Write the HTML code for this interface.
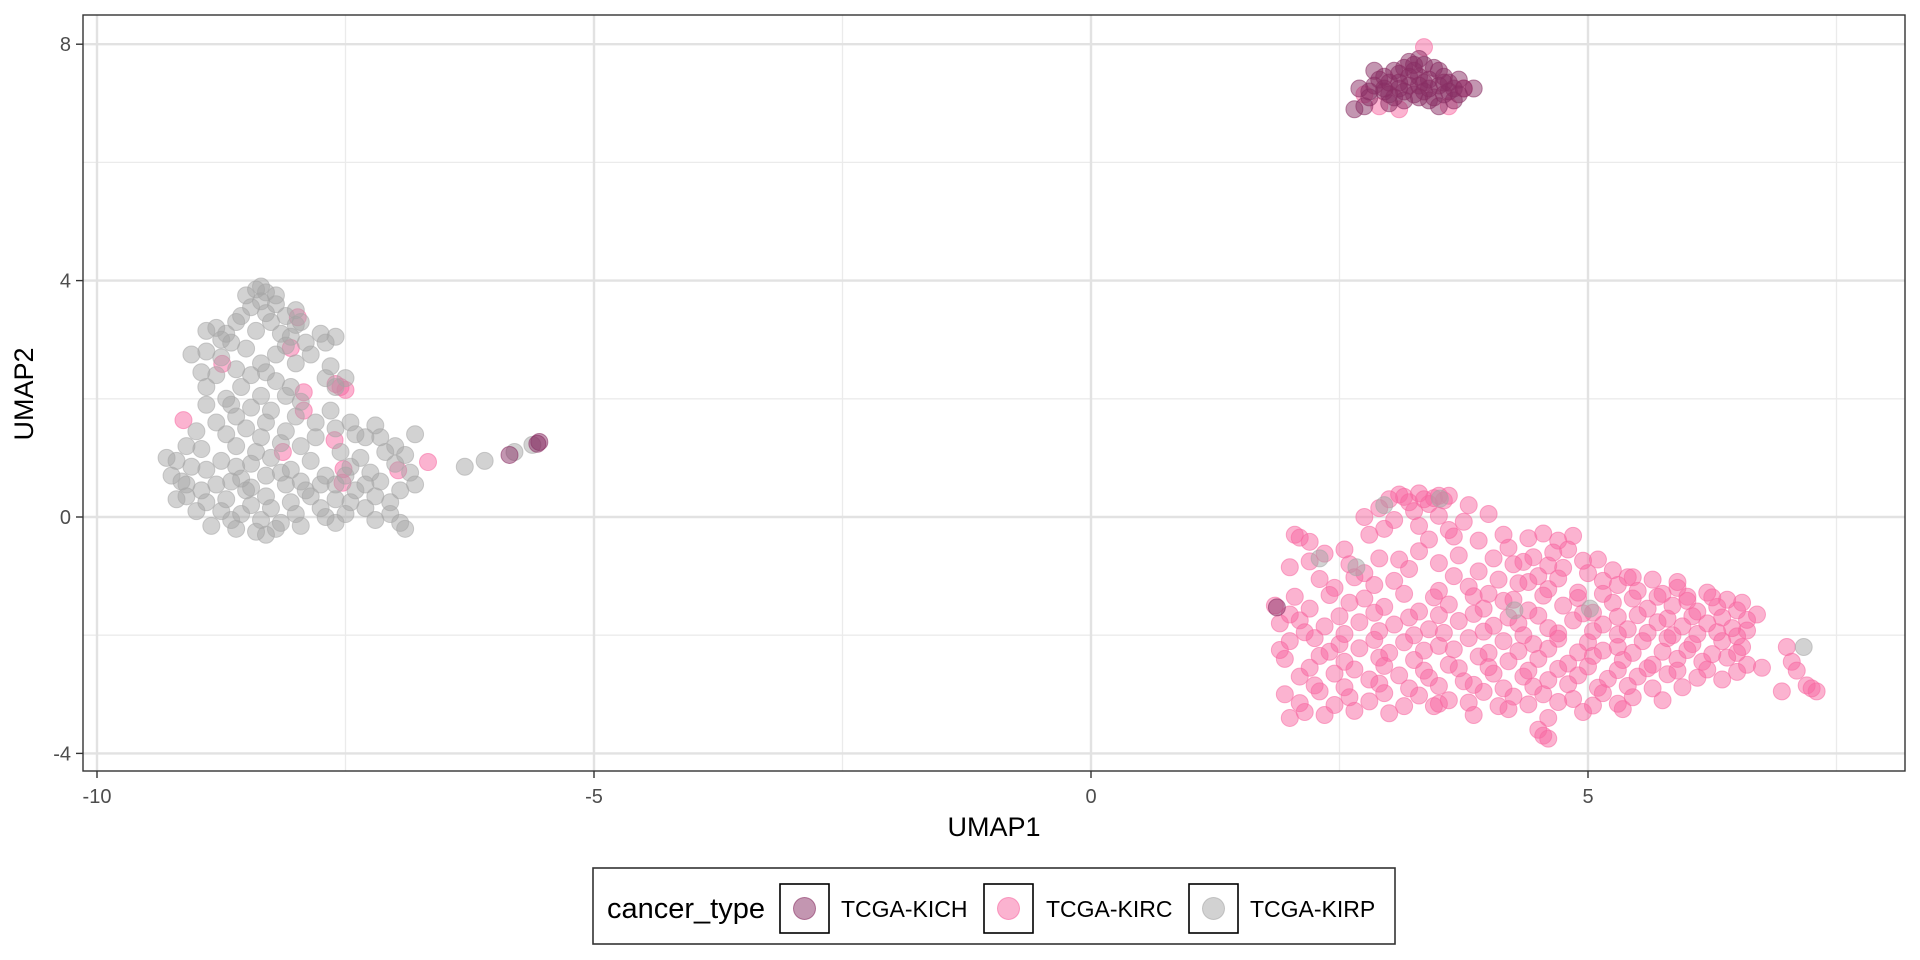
<!DOCTYPE html>
<html><head><meta charset="utf-8"><style>
html,body{margin:0;padding:0;background:#fff;}
svg{display:block;font-family:"Liberation Sans",Arial,sans-serif;}
</style></head><body>
<svg id="chart" width="1920" height="960" viewBox="0 0 1920 960">
<g id="grid"></g>
<g id="pts"></g>
<rect x="83" y="15" width="1822" height="756" fill="none" stroke="#333" stroke-width="1.4"/>
<g id="axes"></g>
<text x="994" y="836" font-size="27" text-anchor="middle" fill="#000">UMAP1</text>
<text transform="translate(33,394) rotate(-90)" font-size="27" text-anchor="middle" fill="#000">UMAP2</text>
<g>
<rect x="593" y="868" width="802" height="76" fill="#fff" stroke="#333" stroke-width="1.6"/>
<text x="607" y="918" font-size="29" fill="#000">cancer_type</text>
<g>
<rect x="780" y="884" width="49" height="49" fill="#fff" stroke="#000" stroke-width="1.6"/>
<circle cx="804.5" cy="908.5" r="11" fill="#882e63" fill-opacity="0.5" stroke="#882e63" stroke-opacity="0.6"/>
<text x="841" y="917" font-size="23">TCGA-KICH</text></g>
<g>
<rect x="984" y="884" width="49" height="49" fill="#fff" stroke="#000" stroke-width="1.6"/>
<circle cx="1008.5" cy="908.5" r="11" fill="#f768a1" fill-opacity="0.5" stroke="#f768a1" stroke-opacity="0.6"/>
<text x="1046" y="917" font-size="23">TCGA-KIRC</text></g>
<g>
<rect x="1189" y="884" width="49" height="49" fill="#fff" stroke="#000" stroke-width="1.6"/>
<circle cx="1213.5" cy="908.5" r="11" fill="#a6a6a6" fill-opacity="0.5" stroke="#a6a6a6" stroke-opacity="0.6"/>
<text x="1250" y="917" font-size="23">TCGA-KIRP</text></g>
</g>
</svg>
<script>
const xTicks = [-10, -5, 0, 5];
const yTicks = [-4, 0, 4, 8];
const xMinor = [-7.5, -2.5, 2.5, 7.5];
const yMinor = [-2, 2, 6];
const kirpX = [-8.35,-8.4,-8.3,-8.5,-8.2,-8.45,-8.1,-8.6,-8.25,-8.0,-8.8,-8.9,-8.4,-8.15,-7.75,-7.6,-8.65,-8.9,-9.05,-8.5,-8.1,-7.7,-7.85,-8.35,-8.0,-8.6,-8.8,-8.9,-8.55,-8.2,-7.7,-7.5,-8.1,-8.7,-8.9,-8.45,-8.25,-8.0,-7.65,-7.8,-8.6,-8.8,-9.0,-8.7,-8.5,-8.3,-8.1,-7.6,-7.4,-7.3,-7.15,-6.8,-9.3,-9.2,-9.25,-9.1,-8.9,-8.75,-8.6,-8.95,-9.1,-8.4,-8.25,-8.3,-8.05,-7.85,-7.7,-7.45,-7.25,-7.0,-6.9,-7.1,-6.8,-6.95,-7.2,-7.4,-7.6,-7.9,-8.05,-8.3,-8.5,-8.7,-8.9,-9.1,-9.0,-8.75,-8.55,-8.35,-8.2,-8.3,-8.15,-8.0,-7.75,-7.5,-7.3,-7.05,-6.95,-7.2,-8.85,-8.6,-9.15,-8.45,-8.15,-7.95,-7.55,-7.35,-7.6,-7.3,-8.55,-8.8,-8.1,-7.85,-6.3,-6.1,-5.8,-5.62,-8.3,-8.0,-7.95,-7.6,2.67,2.95,3.51,4.26,5.02,7.17,2.3,
-8.75,-8.2,-8.45,-8.05,-8.35,-7.95,-8.6,-8.35,-7.8,-7.45,-7.2,-7.0,-9.05,-8.65,-8.45,-8.15,-7.95,-7.75,-7.5,-7.15,-6.85,-7.05,-7.45,-7.7,-7.95,-8.45,-8.95,-9.2,-8.65,-8.25,-8.4,-6.9,-7.6,-8.2,-8.35,-8.55,-8.7,-7.9,-8.05,-7.65,-8.75,-8.95,-8.3,-8.65];
const kirpY = [3.9,3.85,3.8,3.75,3.6,3.55,3.4,3.3,3.3,3.25,3.2,3.15,3.15,3.1,3.1,3.05,2.95,2.8,2.75,2.85,2.9,2.95,2.75,2.6,2.6,2.5,2.4,2.2,2.2,2.3,2.35,2.35,2.05,2.0,1.9,1.85,1.8,1.7,1.8,1.6,1.7,1.6,1.45,1.4,1.5,1.6,1.45,1.5,1.4,1.35,1.35,1.4,1.0,0.95,0.7,0.55,0.8,0.95,0.85,1.15,1.2,1.1,1.0,0.7,0.8,0.95,0.7,0.85,0.75,0.9,1.05,1.1,0.55,0.45,0.35,0.45,0.3,0.45,0.25,0.35,0.45,0.3,0.25,0.35,0.1,0.1,0.05,-0.05,-0.2,-0.3,-0.1,0.05,0.15,0.05,0.15,0.25,-0.1,-0.05,-0.15,-0.2,0.6,0.9,1.25,1.2,1.1,1.0,0.55,0.55,0.65,0.55,0.55,0.35,0.85,0.95,1.1,1.22,3.45,3.5,3.3,2.2,-0.85,0.2,0.31,-1.58,-1.55,-2.2,-0.7,
3.0,2.75,2.4,2.2,2.05,1.95,1.2,1.35,1.35,1.6,1.55,1.2,0.85,0.6,0.5,0.75,0.6,0.55,0.7,0.6,0.75,0.05,0.25,0.0,-0.15,0.2,0.45,0.3,-0.05,0.15,-0.25,-0.2,-0.1,3.75,3.65,3.4,3.1,2.95,3.05,2.55,2.7,2.45,2.45,1.9];
const kircX = [-7.98,-8.05,-8.74,-7.92,-7.55,-7.6,-7.5,-7.92,-9.13,-7.61,-8.13,-7.52,-7.53,-6.67,-6.97,
3.0,3.1,3.2,3.3,3.45,3.55,3.6,2.9,3.8,3.25,3.4,
2.75,3.05,3.5,3.75,4.0,
2.1,2.2,2.8,3.4,3.65,3.9,4.15,4.4,4.55,4.7,4.85,2.05,
2.35,2.55,2.9,3.3,3.7,4.2,4.45,4.65,4.8,5.1,
2.0,2.75,3.2,3.9,4.25,4.5,4.75,5.0,5.25,5.45,
2.45,2.85,3.5,3.8,4.0,4.3,4.6,4.9,5.3,5.5,5.75,5.9,6.0,6.2,6.4,
1.85,2.2,2.6,2.95,3.3,3.6,3.95,4.15,4.4,4.75,5.05,5.25,5.6,5.85,6.1,6.3,6.5,6.7,
1.9,2.1,2.35,2.7,3.05,3.4,3.7,4.05,4.3,4.6,4.85,5.15,5.4,5.7,5.95,6.2,6.45,6.6,
2.0,2.25,2.5,2.85,3.15,3.5,3.8,4.15,4.45,4.7,5.0,5.3,5.55,5.8,6.05,6.35,6.55,
1.95,2.3,2.55,2.9,3.25,3.6,3.9,4.2,4.5,4.8,5.05,5.35,5.65,5.9,6.15,6.4,6.6,6.75,
2.1,2.45,2.8,3.1,3.4,3.75,4.05,4.35,4.6,4.9,5.2,5.5,5.8,6.1,6.35,
1.95,2.3,2.6,2.95,3.3,3.6,3.95,4.25,4.55,4.85,5.15,5.45,5.75,
2.0,2.15,2.35,2.65,3.0,3.45,3.85,4.2,4.6,4.95,5.35,
4.5,4.55,4.6,
7.0,7.05,7.1,6.95,7.2,7.3,7.25,
3.35,2.75,2.9,3.6,3.75,3.1,
2.95,3.3,3.6,
2.2,2.6,3.1,3.5,4.05,4.35,4.6,4.95,
2.3,2.65,3.05,3.65,4.1,4.4,4.7,5.15,5.4,5.65,5.9,
2.05,2.4,2.75,3.15,3.45,3.85,4.25,4.55,4.9,5.15,5.45,5.7,6.0,6.25,6.55,
2.0,2.5,2.85,3.2,3.5,3.85,4.2,4.5,4.95,5.3,5.5,5.8,6.05,6.35,6.6,
2.15,2.55,2.9,3.25,3.55,3.95,4.35,4.7,5.05,5.3,5.6,5.85,6.1,6.3,6.5,
1.9,2.4,2.7,3.0,3.35,3.65,4.0,4.3,4.6,4.9,5.15,5.45,5.75,6.0,6.25,6.5,
2.2,2.65,2.95,3.35,3.7,4.0,4.4,4.7,5.0,5.3,5.6,5.9,6.2,6.5,
2.25,2.55,2.9,3.2,3.5,3.85,4.15,4.45,4.8,5.1,5.4,5.65,5.95,
2.1,2.45,2.8,3.15,3.5,3.8,4.1,4.4,4.7,5.05,5.3,
3.15,3.35,3.5];
const kircY = [3.38,2.86,2.59,2.11,2.2,2.25,2.15,1.8,1.64,1.3,1.1,0.81,0.58,0.93,0.79,
0.3,0.38,0.25,0.4,0.32,0.28,0.36,0.15,0.2,0.1,0.22,
0.0,-0.05,0.02,-0.08,0.05,
-0.35,-0.42,-0.3,-0.38,-0.33,-0.4,-0.3,-0.36,-0.28,-0.4,-0.32,-0.3,
-0.62,-0.55,-0.7,-0.58,-0.65,-0.52,-0.68,-0.6,-0.55,-0.72,
-0.85,-0.95,-0.88,-0.92,-0.8,-1.0,-0.86,-0.95,-0.9,-1.02,
-1.2,-1.15,-1.25,-1.18,-1.3,-1.12,-1.22,-1.28,-1.15,-1.25,-1.3,-1.2,-1.35,-1.28,-1.4,
-1.5,-1.55,-1.45,-1.52,-1.6,-1.48,-1.55,-1.42,-1.58,-1.5,-1.62,-1.45,-1.55,-1.5,-1.6,-1.52,-1.58,-1.65,
-1.8,-1.75,-1.85,-1.78,-1.82,-1.9,-1.76,-1.84,-1.8,-1.88,-1.75,-1.82,-1.9,-1.78,-1.85,-1.8,-1.88,-1.92,
-2.1,-2.05,-2.15,-2.08,-2.12,-2.18,-2.05,-2.1,-2.15,-2.06,-2.12,-2.2,-2.1,-2.05,-2.15,-2.1,-2.2,
-2.4,-2.35,-2.45,-2.38,-2.42,-2.5,-2.36,-2.44,-2.4,-2.48,-2.35,-2.42,-2.5,-2.4,-2.45,-2.38,-2.5,-2.55,
-2.7,-2.65,-2.75,-2.68,-2.72,-2.78,-2.65,-2.7,-2.76,-2.68,-2.74,-2.7,-2.66,-2.72,-2.75,
-3.0,-2.95,-3.05,-2.98,-3.02,-3.1,-2.96,-3.04,-3.0,-3.08,-2.98,-3.05,-3.1,
-3.4,-3.3,-3.35,-3.28,-3.32,-3.2,-3.35,-3.25,-3.4,-3.3,-3.25,
-3.6,-3.7,-3.75,
-2.2,-2.45,-2.6,-2.95,-2.85,-2.95,-2.9,
7.95,7.15,6.95,6.95,7.25,6.9,
-0.2,-0.15,-0.22,
-0.75,-0.8,-0.72,-0.78,-0.7,-0.76,-0.82,-0.74,
-1.05,-1.02,-1.08,-1.0,-1.06,-1.1,-1.04,-1.08,-1.02,-1.06,-1.1,
-1.35,-1.32,-1.38,-1.3,-1.36,-1.34,-1.4,-1.33,-1.37,-1.3,-1.38,-1.35,-1.42,-1.36,-1.45,
-1.65,-1.68,-1.62,-1.7,-1.66,-1.64,-1.7,-1.67,-1.63,-1.69,-1.66,-1.72,-1.68,-1.7,-1.74,
-1.95,-1.98,-1.93,-2.0,-1.96,-1.94,-2.0,-1.97,-1.93,-1.99,-1.96,-2.0,-1.98,-1.95,-2.02,
-2.25,-2.28,-2.22,-2.3,-2.26,-2.24,-2.3,-2.27,-2.23,-2.29,-2.26,-2.3,-2.28,-2.25,-2.32,-2.3,
-2.55,-2.58,-2.52,-2.6,-2.56,-2.54,-2.6,-2.57,-2.53,-2.59,-2.56,-2.6,-2.58,-2.62,
-2.85,-2.88,-2.82,-2.9,-2.86,-2.84,-2.9,-2.87,-2.83,-2.89,-2.86,-2.9,-2.88,
-3.15,-3.18,-3.12,-3.2,-3.16,-3.14,-3.2,-3.17,-3.13,-3.19,-3.16,
0.34,0.3,0.36];
const kichX = [2.65,2.75,2.8,2.85,2.9,2.95,3.0,3.05,3.1,3.15,3.2,3.25,3.2,3.3,3.3,3.35,3.4,3.45,3.5,3.55,3.6,3.65,3.7,3.75,3.85,3.15,3.4,3.5,3.65,3.0,2.7,2.85,3.05,3.35,3.55,2.95,3.45,3.1,3.25,3.35,-5.85,-5.55,-5.57,1.87,
2.8,2.95,3.1,3.2,3.3,3.4,3.5,3.6,3.3,3.0,3.55,3.7,3.25,3.15];
const kichY = [6.9,6.95,7.1,7.3,7.4,7.2,7.35,7.1,7.5,7.6,7.7,7.55,7.3,7.45,7.75,7.2,7.4,7.6,7.3,7.15,7.35,7.25,7.4,7.25,7.25,7.05,7.05,6.95,7.05,7.0,7.25,7.55,7.55,7.65,7.45,7.25,7.1,7.25,7.15,7.35,1.05,1.27,1.24,-1.53,
7.2,7.45,7.35,7.45,7.3,7.25,7.55,7.2,7.1,7.15,7.35,7.15,7.65,7.2];

const NS = 'http://www.w3.org/2000/svg';
const xs = v => 1091 + 99.4 * v;
const ys = v => 517 - 59.1 * v;
const grid = document.getElementById('grid');
const axes = document.getElementById('axes');
const pts = document.getElementById('pts');
function line(parent, x1, y1, x2, y2, stroke, w) {
  const l = document.createElementNS(NS, 'line');
  l.setAttribute('x1', x1); l.setAttribute('y1', y1); l.setAttribute('x2', x2); l.setAttribute('y2', y2);
  l.setAttribute('stroke', stroke); l.setAttribute('stroke-width', w);
  parent.appendChild(l);
  return l;
}
xMinor.forEach(v => { const l = line(grid, xs(v), 15, xs(v), 771, '#ebebeb', 1.3);
  
   });
yMinor.forEach(v => { const l = line(grid, 83, ys(v), 1905, ys(v), '#ebebeb', 1.3);
  
   });
xTicks.forEach(v => {
  const l = line(grid, xs(v), 15, xs(v), 771, '#e2e2e2', 2.4);
  
  
  line(axes, xs(v), 771, xs(v), 778, '#333', 1.4);
  const t = document.createElementNS(NS, 'text');
  t.setAttribute('x', xs(v)); t.setAttribute('y', 803); t.setAttribute('font-size', '20');
  t.setAttribute('text-anchor', 'middle'); t.setAttribute('fill', '#4d4d4d');
  t.textContent = v;
  
  
  axes.appendChild(t);
});
yTicks.forEach(v => {
  const l = line(grid, 83, ys(v), 1905, ys(v), '#e2e2e2', 2.4);
  
  
  line(axes, 76, ys(v), 83, ys(v), '#333', 1.4);
  const t = document.createElementNS(NS, 'text');
  t.setAttribute('x', 71); t.setAttribute('y', ys(v) + 7); t.setAttribute('font-size', '20');
  t.setAttribute('text-anchor', 'end'); t.setAttribute('fill', '#4d4d4d');
  t.textContent = v;
  
  
  axes.appendChild(t);
});
function drawSeries(X, Y, color, name) {
  for (let i = 0; i < X.length; i++) {
    const c = document.createElementNS(NS, 'circle');
    c.setAttribute('cx', xs(X[i])); c.setAttribute('cy', ys(Y[i])); c.setAttribute('r', 8.5);
    c.setAttribute('fill', color); c.setAttribute('fill-opacity', '0.5');
    c.setAttribute('stroke', color); c.setAttribute('stroke-opacity', '0.55'); c.setAttribute('stroke-width', '1');
    
    
    pts.appendChild(c);
  }
}
drawSeries(kircX, kircY, '#f768a1', 'point-kirc');
drawSeries(kirpX, kirpY, '#a6a6a6', 'point-kirp');
drawSeries(kichX, kichY, '#882e63', 'point-kich');
</script>
</body></html>
